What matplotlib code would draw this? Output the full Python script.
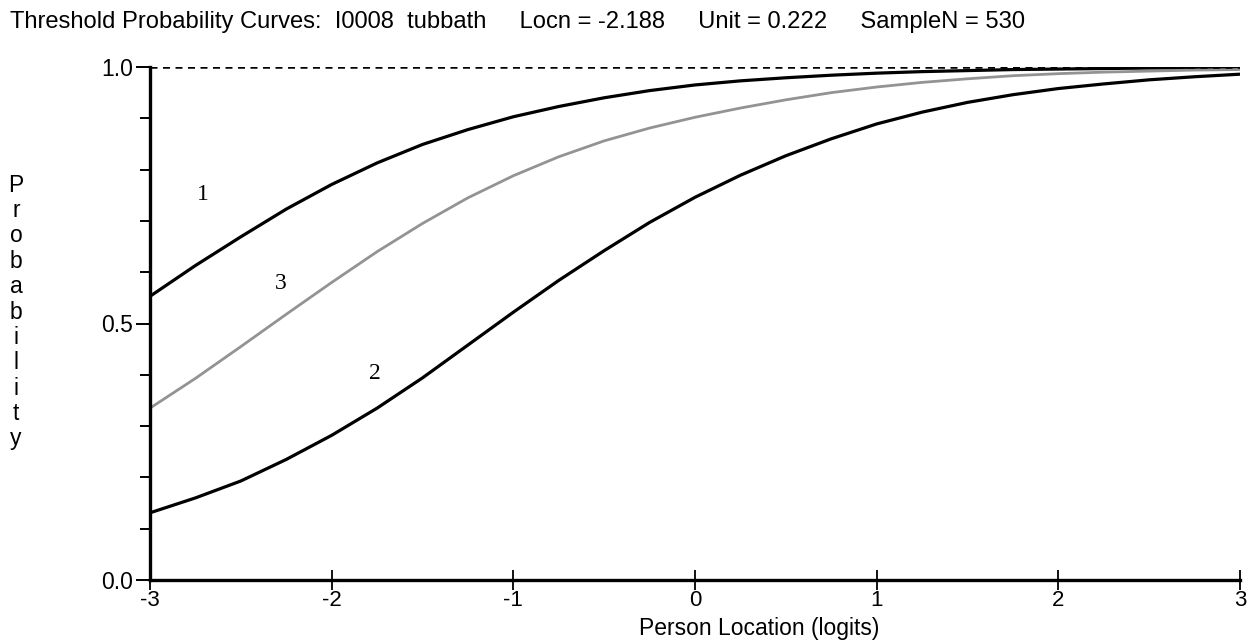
import matplotlib
matplotlib.use("Agg")
import matplotlib.pyplot as plt
from matplotlib.ticker import MultipleLocator, FixedLocator

# ---- data ----
x_logits = [-3.0, -2.75, -2.5, -2.25, -2.0, -1.75, -1.5, -1.25, -1.0, -0.75, -0.5, -0.25,
            0.0, 0.25, 0.5, 0.75, 1.0, 1.25, 1.5, 1.75, 2.0, 2.25, 2.5, 2.75, 3.0]
curve1 = [0.553, 0.613, 0.669, 0.723, 0.771, 0.813, 0.849, 0.878, 0.903, 0.923, 0.940, 0.954,
          0.965, 0.973, 0.979, 0.984, 0.988, 0.991, 0.993, 0.995, 0.996, 0.997, 0.998, 0.998, 0.999]
curve2 = [0.131, 0.160, 0.193, 0.235, 0.282, 0.335, 0.394, 0.458, 0.522, 0.584, 0.642, 0.697,
          0.746, 0.789, 0.827, 0.860, 0.889, 0.912, 0.931, 0.946, 0.958, 0.967, 0.975, 0.981, 0.986]
curve3 = [0.335, 0.393, 0.455, 0.518, 0.580, 0.640, 0.695, 0.745, 0.788, 0.825, 0.856, 0.881,
          0.902, 0.920, 0.936, 0.950, 0.961, 0.970, 0.977, 0.983, 0.987, 0.990, 0.992, 0.994, 0.995]
x_ticks = [-3, -2, -1, 0, 1, 2, 3]
x_ticklabels = ["-3", "-2", "-1", "0", "1", "2", "3"]
y_ticks = [0.0, 0.5, 1.0]
y_ticklabels = ["0.0", "0.5", "1.0"]
curve_labels = ["1", "3", "2"]
curve_label_pos = [(-2.71, 0.752), (-2.28, 0.577), (-1.76, 0.402)]
title_text = ("Threshold Probability Curves:  I0008  tubbath     Locn = -2.188     "
              "Unit = 0.222     SampleN = 530")
x_label = "Person Location (logits)"
y_label = "Probability"

sans = ["Liberation Sans", "DejaVu Sans"]

fig = plt.figure(figsize=(12.56, 6.42), dpi=100)
ax = fig.add_axes([150 / 1256, (642 - 580) / 642, (1240 - 150) / 1256, (580 - 67) / 642])

ax.plot(x_logits, curve1, color="black", lw=2.3, solid_capstyle="butt")
ax.plot(x_logits, curve2, color="black", lw=2.3, solid_capstyle="butt")
ax.plot(x_logits, curve3, color="#939393", lw=2.0, solid_capstyle="butt")
ax.plot([x_ticks[0], x_ticks[-1]], [1.0, 1.0], color="black", lw=1.8, ls=(0, (2.8, 2.2)))

for lab, (lx, ly) in zip(curve_labels, curve_label_pos):
    ax.text(lx, ly, lab, family=["Liberation Serif", "DejaVu Serif"], fontsize=17,
            ha="center", va="center")

ax.set_xlim(-3, 3)
ax.set_ylim(0, 1.0)
for s in ["top", "right"]:
    ax.spines[s].set_visible(False)
for s in ["left", "bottom"]:
    ax.spines[s].set_linewidth(2.4)
ax.spines["left"].set_bounds(0, 1.0)

ax.xaxis.set_major_locator(FixedLocator(x_ticks))
ax.set_xticklabels(x_ticklabels, family=sans, fontsize=16)
ax.yaxis.set_major_locator(FixedLocator(y_ticks))
ax.set_yticklabels(y_ticklabels, family=sans, fontsize=16.5)
ax.yaxis.set_minor_locator(MultipleLocator(0.1))
ax.tick_params(axis="x", direction="inout", length=14, width=1.3, pad=0)
ax.tick_params(axis="y", which="major", direction="out", length=10, width=1.4, pad=2)
ax.tick_params(axis="y", which="minor", direction="out", length=7, width=1.4)

fig.text(10 / 1256, 1 - 22 / 642, title_text, family=sans, fontsize=17.1,
         ha="left", va="center")
fig.text(759 / 1256, 1 - 628 / 642, x_label, family=sans, fontsize=16.5,
         ha="center", va="center")
fig.text(16 / 1256, 1 - 312 / 642, "\n".join(y_label), family=sans, fontsize=16.5,
         ha="center", va="center", linespacing=1.13)

fig.savefig("out.png", dpi=100, facecolor="white")
